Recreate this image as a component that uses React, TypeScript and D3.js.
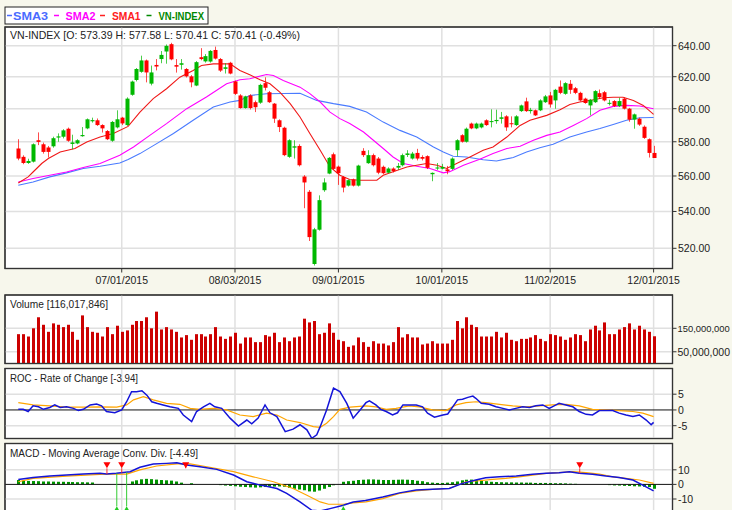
import React from "react";
import * as d3 from "d3";

// ---------------- DATA ----------------
const dateTickIdx = [21, 44, 65, 86, 108, 129];
const dateTickLabels = ["07/01/2015", "08/03/2015", "09/01/2015", "10/01/2015", "11/02/2015", "12/01/2015"];

const open = [576.0,571.1,567.5,568.3,580.9,578.5,576.6,577.3,582.5,583.0,587.8,578.7,579.0,583.3,588.0,592.3,592.9,590.0,586.4,580.6,588.6,594.5,590.0,608.6,617.9,623.1,630.4,615.6,627.5,631.3,636.2,641.0,627.4,627.6,624.9,620.2,614.4,632.5,629.8,629.7,637.2,631.3,625.0,628.9,617.0,608.2,600.4,608.2,604.0,603.7,615.9,610.2,603.1,592.9,588.4,571.1,576.5,577.5,559.7,551.0,511.7,530.0,551.9,561.4,572.6,565.4,559.4,554.5,558.0,554.5,574.6,567.4,572.1,570.1,565.3,561.9,564.3,564.8,566.2,572.2,570.1,573.4,571.0,571.5,561.0,564.3,564.2,563.8,564.1,575.0,583.9,580.0,590.9,588.0,588.6,592.9,591.8,592.4,593.8,595.3,591.1,590.0,598.5,604.5,598.5,599.0,599.0,604.0,608.2,605.1,613.7,609.2,615.5,612.7,609.8,606.2,602.0,604.0,609.6,610.2,603.1,604.7,601.6,606.2,600.0,593.3,593.9,589.0,581.5,573.39];
const high = [581.5,572.0,570.0,579.0,585.6,579.5,577.5,583.0,585.0,587.5,588.5,584.2,581.5,588.8,594.0,594.5,594.0,590.5,587.0,592.5,599.0,595.0,607.0,617.5,625.5,633.5,631.0,627.1,631.3,636.5,640.8,641.9,631.3,631.3,625.5,621.0,630.0,638.4,634.5,637.2,639.4,632.0,628.6,629.5,617.5,609.0,608.0,609.0,605.0,615.5,619.6,611.0,603.5,593.5,589.0,581.5,580.9,578.5,560.5,552.0,531.0,549.0,558.7,571.0,573.6,566.0,560.0,558.0,558.5,566.5,576.2,575.0,573.0,571.0,566.0,565.0,565.0,567.5,573.0,575.0,574.0,575.8,572.0,572.0,562.0,567.5,567.0,565.8,570.8,581.5,584.5,588.5,591.5,591.5,591.5,593.5,599.6,599.4,598.0,596.0,595.3,596.0,602.5,606.8,600.5,599.5,605.8,608.5,610.4,612.3,617.6,616.5,617.9,613.5,610.5,606.8,606.0,611.5,611.9,611.0,605.5,605.3,606.8,607.0,600.5,597.0,594.5,589.8,582.0,577.58];
const low = [569.1,566.8,567.0,567.8,578.0,573.0,570.7,576.5,580.0,582.0,580.0,575.5,578.5,583.0,587.5,591.5,589.5,585.5,581.0,580.0,588.0,590.0,589.5,608.0,617.0,622.5,616.4,614.5,624.0,628.6,628.3,630.5,622.6,624.5,619.5,613.3,614.0,630.5,629.0,629.0,631.0,623.0,622.0,621.5,608.5,600.0,600.0,599.5,597.9,603.0,611.3,603.5,591.3,585.8,571.5,570.5,570.1,565.5,541.8,523.9,510.9,529.5,551.0,561.0,563.5,554.9,550.7,554.0,554.0,554.0,571.0,567.0,565.5,561.0,561.0,561.5,562.0,563.5,565.5,571.0,569.5,569.0,569.0,564.0,557.0,563.5,563.8,561.0,563.5,571.5,579.5,579.5,587.5,587.5,588.0,589.5,588.6,590.8,590.9,586.5,588.6,589.5,598.0,598.0,597.0,595.5,598.5,603.5,600.7,600.0,609.0,608.6,609.2,609.0,604.5,603.0,595.9,603.5,606.0,604.5,602.0,601.0,601.0,599.5,592.0,587.8,589.5,581.7,570.7,570.41];
const close = [570.1,567.5,568.7,578.5,579.9,574.0,574.0,582.1,583.2,586.8,580.6,579.6,580.9,584.0,593.5,593.0,590.0,588.0,581.5,591.9,593.5,591.0,606.2,616.9,624.9,630.4,622.7,622.7,626.5,634.0,639.9,631.1,626.4,628.6,620.2,616.4,629.3,631.3,633.2,636.6,631.6,623.9,626.0,622.0,609.2,600.4,607.6,600.4,600.9,614.8,613.0,604.0,593.9,588.8,572.1,580.9,577.3,566.2,556.3,526.0,530.2,546.3,556.3,570.5,564.1,561.6,553.4,557.6,554.5,566.0,572.1,572.1,566.2,561.9,561.6,564.3,562.8,565.8,572.1,573.1,573.0,570.1,570.0,564.7,561.8,564.9,565.2,562.8,570.1,580.9,580.0,587.8,588.0,590.9,590.9,590.0,592.4,593.1,594.7,588.6,590.5,595.3,602.0,598.5,599.3,595.9,605.1,607.6,602.6,611.7,609.8,615.9,611.7,609.8,605.1,603.5,605.5,610.9,607.1,605.1,603.6,601.6,604.7,600.0,593.3,596.5,590.3,582.3,573.4,570.41];

// volume in millions of shares
const volume = [125,125,115,150,197,165,135,171,165,155,165,135,101,205,155,135,131,115,155,125,161,135,141,165,181,181,197,150,221,145,155,145,135,111,121,101,125,125,115,125,155,115,105,115,131,85,111,111,91,91,121,115,131,91,111,95,111,115,191,175,181,125,131,171,131,101,95,71,77,111,91,71,95,85,85,77,91,155,111,125,111,111,81,85,95,85,85,85,101,181,150,197,165,155,115,115,115,135,111,131,101,95,105,105,111,121,105,95,125,121,115,101,111,125,121,95,145,161,141,175,125,125,145,155,171,145,161,145,135,116.017846];

// moving averages: [bar index, value]
const sma1: [number, number][] = [[0,556.0],[2,559.5],[3,562.3],[4.75,567.2],[6.1,570.1],[8.5,573.9],[11.5,576.0],[13.9,579.9],[16.6,582.8],[19.3,584.9],[22.3,589.2],[24.7,597.9],[27.4,606.2],[30.1,612.4],[32.8,619.7],[35.5,624.0],[37.2,627.2],[39.6,628.2],[43,628.2],[45,624.0],[47,621.2],[49.1,618.1],[51.1,615.5],[53.1,610.3],[55.2,603.1],[57.2,594.9],[59.2,584.9],[61.3,575.0],[63.3,565.2],[65.3,560.4],[67.3,558.0],[69.4,557.6],[72.8,557.6],[74.1,560.4],[76.1,562.5],[78.9,565.2],[80.9,566.2],[82.9,567.2],[85,566.2],[87,564.3],[89,567.2],[91.7,571.0],[94.4,575.0],[96.4,576.9],[99.2,582.8],[101.9,589.8],[103.9,592.9],[107.3,595.9],[110,599.4],[112,602.6],[114,604.1],[116.1,605.1],[118.8,606.8],[120.8,607.1],[122.8,607.1],[124.9,605.1],[126.9,602.0],[129,596.5]];
const sma2: [number, number][] = [[0,556.6],[3,558.6],[6.4,560.4],[9.8,562.3],[13.2,564.9],[16.6,567.2],[20.6,572.0],[23.4,576.9],[26.7,583.8],[30.1,590.9],[34.2,600.0],[38.2,607.2],[42.3,615.5],[45,618.1],[47,618.7],[50.4,621.4],[51.8,620.8],[53.8,617.6],[57.2,613.4],[59.2,609.3],[61.3,604.1],[63.3,597.9],[65.3,593.9],[67.3,590.9],[70.1,585.8],[72.1,580.9],[74.1,576.0],[76.1,571.0],[78.2,567.2],[80.9,565.6],[83.6,564.3],[86.3,561.8],[87.6,562.5],[90.4,566.2],[93.7,569.7],[96.4,573.0],[99.2,576.0],[101.9,577.3],[104.6,580.9],[107.3,583.8],[110,585.8],[112.7,589.8],[115.4,593.9],[118.1,599.0],[120.8,601.4],[123.5,602.0],[126.2,601.6],[129,600.0]];
const sma3: [number, number][] = [[0,554.7],[3,556.6],[6.4,559.5],[9.8,561.8],[13.2,564.3],[16.6,565.6],[20.6,567.5],[22.3,569.5],[24.7,573.0],[28.1,578.9],[31.5,584.9],[35.5,592.9],[39.6,601.0],[43,604.1],[45,605.1],[47,608.2],[50.4,609.2],[57.2,609.6],[60.6,605.1],[64,603.1],[67.3,601.4],[70.7,597.9],[74.1,591.8],[77.5,586.8],[80.9,582.8],[84.3,576.9],[86.3,573.9],[88.3,571.4],[91,571.0],[94.4,569.4],[97.1,568.7],[100.5,570.7],[103.2,573.9],[105.9,576.5],[108.6,578.5],[112,582.8],[115.4,585.8],[118.1,587.9],[120.8,590.4],[123.5,592.9],[126.2,594.4],[129,594.6]];

// ROC and its signal: [bar index, value]
const roc: [number, number][] = [[0,0.2],[1,0.2],[2,-0.5],[3,1.3],[4.1,1.0],[5.1,0.2],[6.4,0.8],[7.4,1.6],[8.5,0.8],[9.8,1.0],[11.2,0.5],[12.2,-0.2],[13.2,0.2],[14.6,1.6],[15.9,1.9],[16.9,1.3],[17.9,-0.5],[19.6,-0.9],[21,0],[22,2.6],[23,5.8],[24,5.8],[25.1,6.1],[26.1,4.7],[27.1,2.6],[28.1,2.1],[29.4,1.6],[30.8,1.0],[32.5,0.5],[33.5,-1.6],[35.2,-3.7],[36.2,-0.5],[37.6,1.0],[38.9,2.1],[39.9,1.0],[41.3,0.5],[43,-2.6],[44.7,-5.1],[46.4,-3.2],[47.4,-4.4],[48.7,-2.6],[50.1,1.6],[51.1,-0.9],[52.5,-2.1],[54.2,-6.9],[55.8,-6.1],[57.2,-4.7],[58.6,-6.3],[59.6,-9.0],[60.6,-7.9],[61.3,-5.3],[62.6,0],[64,6.9],[65.3,5.8],[66.7,2.1],[68,-2.6],[69.4,0],[70.6,2.3],[71.3,2.9],[72.6,1.6],[73.6,0.2],[74.7,-0.5],[76,-1.6],[77,-0.9],[78.1,1.6],[80.8,1.6],[82.1,1.0],[83.1,-1.0],[84.5,-2.3],[86.2,-1.6],[87.2,-1.3],[88.2,1.0],[89.2,3.2],[90.2,3.4],[91.3,4.0],[92.3,4.4],[92.9,3.7],[94,2.1],[95.6,1.8],[97,1.0],[98.4,0.5],[99.7,0],[101,0.5],[102.4,1.0],[103.8,0.8],[105.1,1.3],[106.5,1.6],[107.8,0.5],[108.8,1.3],[109.8,2.1],[111.2,1.6],[112.6,1.0],[113.9,-0.5],[115.3,-1.4],[116.6,-1.6],[118,-0.2],[120.7,-0.2],[122,-1.0],[123.4,-1.6],[124.8,-2.1],[126.1,-1.6],[127.5,-3.2],[128.5,-4.7],[129,-3.94]];
const rocSignal: [number, number][] = [[0,2.3],[3,1.6],[6.4,1.3],[9.8,0.9],[13.2,0.9],[16.6,1.0],[20,0.9],[22,1.6],[23.4,3.2],[25.4,4.2],[27.4,3.2],[30.1,2.1],[32.8,1.8],[34.9,0.5],[36.9,0.2],[39.6,0.5],[42.3,0],[45,-1.6],[47.7,-2.1],[50.4,-1.0],[52.5,-1.6],[54.5,-3.2],[57.2,-4.0],[59.9,-5.3],[61.3,-5.5],[62.6,-4.2],[64,-2.1],[65.3,0.2],[67.4,0.9],[70.6,1.3],[72.6,1.0],[74.7,0.2],[76.7,0.5],[79.4,1.3],[81.4,1.0],[84.1,0],[86.8,-0.2],[88.9,1.6],[90.9,2.3],[92.9,2.6],[94.9,2.3],[97.7,1.8],[100.4,1.3],[103.1,1.0],[105.8,1.3],[108.5,1.6],[111.2,1.8],[113.9,1.3],[116.6,0.2],[119.3,0],[122,-0.2],[124.8,-0.5],[126.8,-1.0],[129,-2.1]];

// MACD, signal, histogram
const macd: [number, number][] = [[0,3.4],[3,4.8],[6.4,5.7],[9.8,6.4],[13.2,7.1],[16.6,7.6],[17.9,7.1],[19.9,7.6],[22.7,8.7],[24.7,11.7],[27.4,13.9],[30.1,14.4],[32.2,14.8],[34.2,13.3],[36.9,12.1],[40.3,10.3],[43.7,6.4],[46.4,1.8],[49.1,-0.5],[50.4,-1.2],[52.5,-2.8],[54.5,-6.2],[57.2,-12.0],[59.6,-17.7],[61.3,-18.2],[63.3,-16.6],[66,-14.3],[68,-12.0],[70.5,-11.0],[74,-8.6],[77.4,-5.8],[80.8,-3.9],[84.1,-3.4],[87.5,-2.8],[90.2,0.7],[92.9,3.0],[94.9,4.6],[97.7,5.2],[101.1,5.7],[104.4,6.9],[107.2,7.6],[109.8,8.0],[111.9,8.7],[113.9,7.6],[116.6,6.9],[119.3,5.7],[122,4.8],[124.8,3.0],[126.8,-0.5],[129,-4.49]];
const macdSignal: [number, number][] = [[0,1.8],[3,4.1],[9.8,5.7],[16.6,6.9],[18.6,7.1],[22,7.1],[24.7,9.9],[28.1,12.6],[32.2,14.0],[34.9,14.0],[38.3,12.1],[43.7,8.7],[47.7,5.2],[51.8,1.8],[55.8,-2.8],[58.6,-7.4],[61.3,-12.0],[63,-13.6],[66,-13.6],[68,-12.7],[70.6,-12.0],[74,-9.7],[77.4,-6.2],[80.8,-4.4],[84.1,-3.4],[87.5,-2.8],[90.9,1.8],[93.6,2.5],[96.3,3.4],[99,4.1],[101.7,5.2],[104.4,6.4],[107.2,7.6],[109.8,8.0],[112.6,8.7],[115.3,8.0],[118,7.1],[120.7,5.2],[123.4,4.1],[126.1,3.0],[129,0.7]];
const macdHist = [3.0,2.5,2.4,2.3,2.2,2.0,2.0,1.9,1.8,1.8,1.7,1.6,1.5,1.5,1.4,1.3,0,0,0,0,0,0,0,2.0,2.8,3.5,3.8,3.6,3.3,3.0,2.8,2.6,2.0,1.2,0,0.8,0,0,0,0,0,-0.5,-0.8,-1.0,-1.3,-1.6,-1.8,-2.0,-2.2,-2.0,-1.8,-1.6,-1.5,-1.4,-1.6,-2.4,-3.0,-3.5,-4.0,-4.8,-5.0,-4.2,-3.0,-1.8,-0.6,0,1.8,2.2,2.5,3.0,3.2,3.4,3.4,3.2,3.0,3.0,3.1,3.2,3.3,3.2,3.0,2.5,2.2,1.5,1.2,1.0,1.0,1.2,1.5,2.0,2.8,3.2,3.3,3.0,2.6,2.2,1.8,1.6,1.5,1.4,1.4,1.3,1.3,1.2,1.2,1.0,1.0,1.0,0.9,0.8,0.8,0.7,0.5,0.4,0,0,0,0,0,0,-0.5,-0.7,-0.8,-1.0,-1.1,-1.3,-1.4,-1.6,-1.8,-3.0];
const sellIdx = [18, 21, 34, 114];
const buyIdx = [20, 22, 66];

const priceTicks = [520, 540, 560, 580, 600, 620, 640];
const volTicks = [50, 150];
const rocTicks = [-5, 0, 5];
const macdTicks = [-10, 0, 10];

const legendItems = [
  { t: "SMA3", c: "#4A6BFF" },
  { t: "SMA2", c: "#FF00FF" },
  { t: "SMA1", c: "#FF2020" },
  { t: "VN-INDEX", c: "#008800" },
];

// ---------------- STYLE ----------------
const W = 732, H = 510;
const BG = "#F7F7EC";
const GRID = "#E0E0E0";
const GREEN = "#00B800";
const RED = "#FF0000";
const FONT = "'Liberation Sans', Arial, sans-serif";
const PL = 5, PR = 672.5;
const main = { top: 27, bottom: 268.5 };
const volP = { top: 295, bottom: 363.5 };
const rocP = { top: 368.5, bottom: 438.5 };
const macdP = { top: 443.5, bottom: 530 };
const legendLayout = [
  { lx: 7, tx: 13, tw: 35 },
  { lx: 54, tx: 65.5, tw: 30 },
  { lx: 100, tx: 112, tw: 28.5 },
  { lx: 146.5, tx: 158.5, tw: 45.5 },
];

export default function App() {
  const x = d3.scaleLinear().domain([0, 129]).range([18.3, 653.6]);
  const yP = d3.scaleLog().domain([520, 640]).range([248.3, 45.7]);
  const yV = d3.scaleLinear().domain([0, 150]).range([363.5, 328.3]);
  const yR = d3.scaleLinear().domain([-5, 5]).range([425.7, 394.2]);
  const yM = d3.scaleLinear().domain([-10, 10]).range([499, 469.8]);

  const lineP = d3.line<[number, number]>().x(d => x(d[0])).y(d => yP(d[1]));
  const lineR = d3.line<[number, number]>().x(d => x(d[0])).y(d => yR(d[1]));
  const lineM = d3.line<[number, number]>().x(d => x(d[0])).y(d => yM(d[1]));
  const macdAt = d3.scaleLinear().domain(macd.map(d => d[0])).range(macd.map(d => d[1]));

  const panelFrame = (p: { top: number; bottom: number }, key: string) => (
    <rect key={key} x={PL} y={p.top} width={PR - PL} height={p.bottom - p.top} fill="#fff" stroke="#333" strokeWidth={1.2} />
  );
  const panelBorder = (p: { top: number; bottom: number }) => (
    <rect x={PL} y={p.top} width={PR - PL} height={p.bottom - p.top} fill="none" stroke="#333" strokeWidth={1.2} />
  );
  const vGrid = (p: { top: number; bottom: number }) =>
    dateTickIdx.map((t, i) => (
      <line key={"vg" + i} x1={x(t)} x2={x(t)} y1={p.top} y2={p.bottom} stroke={GRID} strokeWidth={1.5} />
    ));

  const idx = d3.range(open.length);
  const lblSize = 10.5;

  return (
    <svg width={W} height={H} style={{ position: "absolute", left: 0, top: 0, background: BG }} fontFamily={FONT}>
      <defs>
        <clipPath id="cMain"><rect x={PL} y={main.top} width={PR - PL} height={main.bottom - main.top} /></clipPath>
        <clipPath id="cVol"><rect x={PL} y={volP.top} width={PR - PL} height={volP.bottom - volP.top} /></clipPath>
        <clipPath id="cRoc"><rect x={PL} y={rocP.top} width={PR - PL} height={rocP.bottom - rocP.top} /></clipPath>
        <clipPath id="cMacd"><rect x={PL} y={macdP.top} width={PR - PL} height={macdP.bottom - macdP.top} /></clipPath>
      </defs>
      <rect x={0} y={0} width={W} height={H} fill={BG} />

      {/* Legend */}
      <rect x={5} y={7} width={203} height={17} fill="#fff" stroke="#222" strokeWidth={1} />
      {legendItems.map((l, k) => {
        const p = legendLayout[k];
        return (
          <g key={l.t}>
            <line x1={p.lx} x2={p.lx + 5} y1={15.5} y2={15.5} stroke={l.c} strokeWidth={1.5} />
            <text x={p.tx} y={20} fontSize={11.5} fontWeight="bold" fill={l.c}
              textLength={p.tw} lengthAdjust="spacingAndGlyphs">{l.t}</text>
          </g>
        );
      })}

      {/* ---------- MAIN PANEL ---------- */}
      {panelFrame(main, "mf")}
      {priceTicks.map(t => (
        <line key={"hg" + t} x1={PL} x2={PR} y1={yP(t)} y2={yP(t)} stroke={GRID} strokeWidth={1.5} />
      ))}
      {vGrid(main)}
      <g clipPath="url(#cMain)">
        <path d={lineP(sma3) || ""} fill="none" stroke="#4A7BFF" strokeWidth={1.1} />
        <path d={lineP(sma2) || ""} fill="none" stroke="#FF00FF" strokeWidth={1.1} />
        <path d={lineP(sma1) || ""} fill="none" stroke="#F01818" strokeWidth={1.1} />
        {idx.map(i => {
          const up = close[i] >= open[i];
          const c = up ? GREEN : RED;
          const cx = Math.round(x(i)) + 0.5;
          const yTop = yP(Math.max(open[i], close[i]));
          const yBot = yP(Math.min(open[i], close[i]));
          return (
            <g key={"c" + i}>
              <line x1={cx} x2={cx} y1={yP(high[i])} y2={yP(low[i])} stroke={c} strokeWidth={1} strokeOpacity={0.7} />
              <rect x={cx - 2} y={yTop} width={4} height={Math.max(1, yBot - yTop)} fill={c} />
            </g>
          );
        })}
      </g>
      {panelBorder(main)}
      <text x={10} y={39} fontSize={11} fill="#222" textLength={290} lengthAdjust="spacingAndGlyphs">
        VN-INDEX [O: 573.39 H: 577.58 L: 570.41 C: 570.41 (-0.49%)
      </text>
      {priceTicks.map(t => (
        <g key={"pt" + t}>
          <line x1={PR} x2={PR + 4} y1={yP(t)} y2={yP(t)} stroke="#333" />
          <text x={678} y={yP(t) + 4} fontSize={lblSize} fill="#222">{t.toFixed(2)}</text>
        </g>
      ))}
      {dateTickIdx.map((t, i) => (
        <g key={"dt" + i}>
          <line x1={x(t)} x2={x(t)} y1={main.bottom} y2={main.bottom + 4} stroke="#333" />
          <text x={x(t)} y={284} fontSize={lblSize} fill="#222" textAnchor="middle">{dateTickLabels[i]}</text>
        </g>
      ))}

      {/* ---------- VOLUME PANEL ---------- */}
      {panelFrame(volP, "vf")}
      {volTicks.map(t => (
        <line key={"vt" + t} x1={PL} x2={PR} y1={yV(t)} y2={yV(t)} stroke={GRID} strokeWidth={1.5} />
      ))}
      {vGrid(volP)}
      <g clipPath="url(#cVol)">
        {idx.map(i => (
          <rect key={"v" + i} x={Math.round(x(i)) - 1} y={yV(volume[i])} width={3} height={yV(0) - yV(volume[i])} fill="#CC0000" />
        ))}
      </g>
      {panelBorder(volP)}
      <text x={10} y={308} fontSize={11} fill="#222" textLength={98} lengthAdjust="spacingAndGlyphs">Volume [116,017,846]</text>
      {volTicks.map(t => (
        <g key={"vl" + t}>
          <line x1={PR} x2={PR + 4} y1={yV(t)} y2={yV(t)} stroke="#333" />
          <text x={677.5} y={yV(t) + 4} fontSize={t >= 100 ? 9.4 : lblSize} fill="#222">{d3.format(",")(t * 1e6)}</text>
        </g>
      ))}

      {/* ---------- ROC PANEL ---------- */}
      {panelFrame(rocP, "rf")}
      {rocTicks.filter(t => t !== 0).map(t => (
        <line key={"rt" + t} x1={PL} x2={PR} y1={yR(t)} y2={yR(t)} stroke={GRID} strokeWidth={1.5} />
      ))}
      {vGrid(rocP)}
      <line x1={PL} x2={PR} y1={yR(0)} y2={yR(0)} stroke="#111" strokeWidth={1} />
      <g clipPath="url(#cRoc)">
        <path d={lineR(rocSignal) || ""} fill="none" stroke="#FFA500" strokeWidth={1.2} />
        <path d={lineR(roc) || ""} fill="none" stroke="#1414D8" strokeWidth={1.5} />
      </g>
      {panelBorder(rocP)}
      <text x={10} y={382} fontSize={11} fill="#222" textLength={128} lengthAdjust="spacingAndGlyphs">ROC - Rate of Change [-3.94]</text>
      {rocTicks.map(t => (
        <g key={"rl" + t}>
          <line x1={PR} x2={PR + 4} y1={yR(t)} y2={yR(t)} stroke="#333" />
          <text x={678} y={yR(t) + 4} fontSize={lblSize} fill="#222">{t}</text>
        </g>
      ))}

      {/* ---------- MACD PANEL ---------- */}
      {panelFrame(macdP, "mcf")}
      {macdTicks.filter(t => t !== 0).map(t => (
        <line key={"mt" + t} x1={PL} x2={PR} y1={yM(t)} y2={yM(t)} stroke={GRID} strokeWidth={1.5} />
      ))}
      {vGrid(macdP)}
      <g clipPath="url(#cMacd)">
        {idx.map(i => macdHist[i] === 0 ? null : (
          <rect key={"h" + i} x={Math.round(x(i)) - 1} y={Math.min(yM(0), yM(macdHist[i]))} width={3}
            height={Math.abs(yM(macdHist[i]) - yM(0))} fill="#009400" />
        ))}
        <line x1={PL} x2={PR} y1={yM(0)} y2={yM(0)} stroke="#111" strokeWidth={1} />
        <path d={lineM(macdSignal) || ""} fill="none" stroke="#FFA500" strokeWidth={1.2} />
        <path d={lineM(macd) || ""} fill="none" stroke="#1414D8" strokeWidth={1.5} />
        {buyIdx.map(i => {
          const cx = x(i);
          const ly = yM(macdAt(i));
          const ty = yM(-15);
          return (
            <g key={"b" + i}>
              <line x1={cx} x2={cx} y1={ly} y2={ty} stroke="#33CC33" strokeWidth={1} />
              <path d={`M${cx},${ty} L${cx - 3.5},${ty + 6} L${cx + 3.5},${ty + 6} Z`} fill="#22CC22" />
            </g>
          );
        })}
        {sellIdx.map(i => {
          const cx = x(i);
          const ly = yM(macdAt(i));
          const ty = yM(11);
          return (
            <g key={"s" + i}>
              <line x1={cx} x2={cx} y1={ty} y2={ly} stroke="#FF3030" strokeWidth={1} />
              <path d={`M${cx},${ty} L${cx - 3.5},${ty - 6} L${cx + 3.5},${ty - 6} Z`} fill="#FF0000" />
            </g>
          );
        })}
      </g>
      {panelBorder(macdP)}
      <text x={10} y={457} fontSize={11} fill="#222" textLength={188} lengthAdjust="spacingAndGlyphs">MACD - Moving Average Conv. Div. [-4.49]</text>
      {macdTicks.map(t => (
        <g key={"ml" + t}>
          <line x1={PR} x2={PR + 4} y1={yM(t)} y2={yM(t)} stroke="#333" />
          <text x={678} y={yM(t) + 4} fontSize={lblSize} fill="#222">{t}</text>
        </g>
      ))}
    </svg>
  );
}
